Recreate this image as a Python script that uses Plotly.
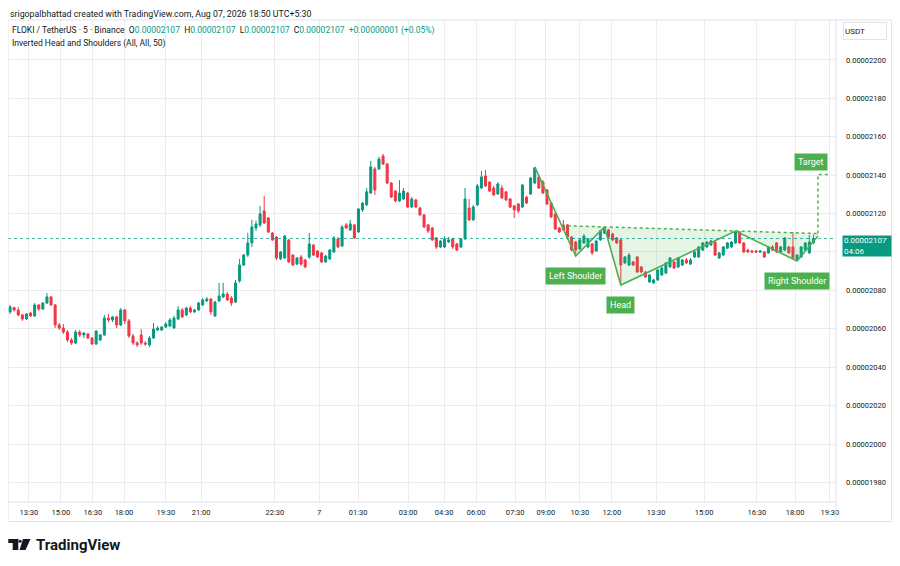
import plotly.graph_objects as go

# FLOKI / TetherUS candles, prices in units of 1e-8 USDT
S = 1e-8

opens = [
    2068.8, 2071.0, 2069.8, 2067.2, 2065.1, 2068.2, 2066.7, 2072.4, 2070.3, 2073.4,
    2076.6, 2072.4, 2062.0, 2060.4, 2058.3, 2054.2, 2052.6, 2058.3, 2056.8, 2057.3,
    2055.2, 2052.1, 2054.2, 2056.8, 2065.6, 2064.6, 2066.2, 2062.0, 2069.8, 2064.1,
    2056.3, 2052.6, 2056.8, 2052.6, 2051.6, 2055.2, 2059.4, 2059.4, 2060.9, 2061.4,
    2060.4, 2065.1, 2069.8, 2067.2, 2070.8, 2068.8, 2069.8, 2072.4, 2074.5, 2075.5,
    2066.7, 2074.5, 2076.6, 2078.1, 2076.0, 2073.9, 2084.9, 2093.2, 2098.4, 2104.7,
    2112.5, 2114.1, 2121.4, 2117.7, 2109.9, 2107.8, 2096.4, 2096.9, 2106.3, 2098.4,
    2093.7, 2097.4, 2095.8, 2097.4, 2103.6, 2100.5, 2099.5, 2094.8, 2096.4, 2100.0,
    2106.8, 2103.1, 2114.1, 2111.5, 2114.1, 2110.4, 2121.9, 2124.5, 2130.7, 2143.2,
    2143.2, 2150.0, 2145.8, 2135.9, 2131.7, 2126.6, 2127.6, 2130.7, 2123.4, 2127.1,
    2122.9, 2119.3, 2114.1, 2112.5, 2107.3, 2102.6, 2102.6, 2105.2, 2106.8, 2104.2,
    2102.6, 2106.8, 2122.9, 2116.7, 2124.5, 2133.3, 2139.6, 2136.4, 2133.3, 2130.2,
    2133.3, 2131.3, 2127.6, 2124.0, 2125.0, 2123.4, 2128.6, 2130.2, 2135.9, 2139.1,
    2136.4, 2132.3, 2125.5, 2119.8, 2112.5, 2114.1, 2114.1, 2107.8, 2105.2, 2101.6,
    2104.7, 2102.6, 2104.2, 2100.5, 2106.3, 2109.9, 2111.5, 2109.4, 2107.3, 2106.3,
    2094.3, 2093.2, 2094.8, 2097.4, 2092.2, 2089.6, 2084.4, 2083.9, 2085.4, 2088.0,
    2089.0, 2092.2, 2094.8, 2092.2, 2093.2, 2095.8, 2093.7, 2097.4, 2097.4, 2101.0,
    2102.6, 2103.6, 2105.2, 2096.9, 2098.4, 2102.0, 2102.6, 2104.7, 2110.4, 2104.7,
    2101.0, 2100.5, 2100.5, 2100.0, 2100.0, 2099.5, 2102.6, 2104.7, 2100.0, 2101.0,
    2102.6, 2102.6, 2095.8, 2097.4, 2101.0, 2099.5, 2104.7,
]
highs = [
    2072.4, 2071.5, 2071.4, 2067.7, 2068.2, 2068.8, 2073.4, 2072.9, 2073.9, 2078.6,
    2077.1, 2072.9, 2063.0, 2062.5, 2059.4, 2055.2, 2059.4, 2059.4, 2058.3, 2057.8,
    2055.7, 2059.4, 2057.3, 2067.2, 2067.7, 2066.7, 2066.7, 2070.8, 2070.3, 2065.1,
    2057.3, 2053.6, 2059.9, 2053.6, 2056.3, 2063.0, 2061.4, 2061.4, 2063.5, 2065.6,
    2066.7, 2071.9, 2070.8, 2071.4, 2071.9, 2070.3, 2074.0, 2076.0, 2076.6, 2076.0,
    2074.5, 2083.9, 2083.9, 2079.2, 2077.1, 2085.4, 2096.4, 2099.0, 2109.9, 2116.7,
    2116.2, 2124.0, 2129.2, 2118.2, 2110.4, 2108.3, 2100.5, 2108.9, 2106.8, 2098.9,
    2097.4, 2098.4, 2096.4, 2109.9, 2104.2, 2101.0, 2100.0, 2098.4, 2101.6, 2108.3,
    2107.8, 2114.1, 2115.1, 2116.7, 2114.6, 2123.0, 2126.0, 2133.3, 2147.4, 2144.3,
    2149.5, 2151.0, 2146.4, 2136.4, 2132.3, 2137.5, 2133.3, 2131.3, 2128.6, 2127.6,
    2123.4, 2119.8, 2114.6, 2113.0, 2107.8, 2106.3, 2108.3, 2107.8, 2107.3, 2104.7,
    2107.3, 2133.3, 2127.6, 2124.5, 2135.4, 2142.2, 2142.7, 2136.9, 2134.4, 2136.4,
    2134.9, 2131.7, 2128.1, 2124.5, 2125.5, 2135.4, 2129.2, 2139.1, 2144.3, 2139.6,
    2137.5, 2132.8, 2126.0, 2120.3, 2113.0, 2116.7, 2114.6, 2108.3, 2105.7, 2107.3,
    2109.4, 2107.3, 2104.7, 2106.3, 2111.5, 2113.0, 2112.0, 2109.9, 2107.8, 2106.8,
    2097.9, 2099.5, 2095.3, 2097.9, 2092.7, 2090.1, 2088.5, 2086.0, 2091.1, 2092.7,
    2094.8, 2097.4, 2095.3, 2097.4, 2096.4, 2096.9, 2096.9, 2100.5, 2103.1, 2105.2,
    2105.7, 2106.3, 2106.3, 2100.0, 2103.1, 2105.2, 2105.7, 2110.9, 2110.9, 2105.2,
    2101.6, 2101.0, 2101.0, 2101.0, 2100.5, 2103.1, 2103.6, 2105.2, 2103.1, 2107.8,
    2103.1, 2110.4, 2098.9, 2103.1, 2105.2, 2108.9, 2108.9,
]
lows = [
    2067.7, 2069.0, 2066.5, 2064.1, 2064.6, 2066.2, 2066.2, 2069.3, 2069.8, 2072.9,
    2071.9, 2060.4, 2059.4, 2057.3, 2053.1, 2051.6, 2052.1, 2055.7, 2055.2, 2054.7,
    2051.6, 2051.6, 2053.6, 2056.3, 2063.5, 2063.5, 2060.4, 2061.4, 2062.5, 2055.2,
    2051.6, 2050.5, 2051.6, 2051.1, 2050.5, 2054.7, 2058.8, 2058.8, 2060.4, 2060.9,
    2060.0, 2064.6, 2065.6, 2066.7, 2068.2, 2068.2, 2069.3, 2071.9, 2074.0, 2067.2,
    2066.2, 2074.0, 2076.0, 2074.5, 2071.9, 2073.4, 2083.9, 2092.7, 2097.4, 2102.6,
    2110.9, 2113.0, 2114.6, 2109.9, 2105.7, 2095.8, 2095.8, 2096.4, 2094.3, 2092.7,
    2093.2, 2092.7, 2091.6, 2096.4, 2097.9, 2096.9, 2094.3, 2094.3, 2095.8, 2099.5,
    2102.0, 2102.6, 2112.0, 2110.9, 2106.8, 2109.9, 2120.8, 2124.0, 2130.2, 2129.7,
    2142.7, 2145.3, 2135.4, 2128.1, 2126.0, 2126.0, 2127.1, 2122.9, 2122.9, 2122.9,
    2118.8, 2112.5, 2109.9, 2105.7, 2101.6, 2102.0, 2102.0, 2104.7, 2101.6, 2100.5,
    2102.0, 2106.3, 2116.2, 2116.2, 2124.0, 2132.8, 2133.8, 2131.3, 2129.2, 2129.7,
    2127.6, 2126.6, 2122.9, 2117.7, 2120.3, 2122.9, 2125.0, 2129.7, 2135.4, 2132.8,
    2130.2, 2124.5, 2117.7, 2111.5, 2109.9, 2110.9, 2106.8, 2100.5, 2097.9, 2101.0,
    2104.2, 2102.0, 2098.4, 2100.0, 2105.7, 2109.4, 2107.3, 2105.7, 2104.2, 2082.8,
    2093.7, 2092.7, 2092.7, 2089.0, 2089.0, 2086.5, 2083.9, 2083.4, 2084.9, 2087.5,
    2088.5, 2091.6, 2091.1, 2091.6, 2092.7, 2093.7, 2093.2, 2096.9, 2096.9, 2100.5,
    2102.0, 2103.1, 2097.9, 2096.4, 2097.9, 2101.6, 2102.0, 2104.2, 2104.2, 2099.5,
    2099.5, 2099.5, 2099.5, 2099.5, 2096.9, 2099.0, 2100.5, 2099.5, 2099.5, 2100.5,
    2099.0, 2095.8, 2095.3, 2096.9, 2100.5, 2099.0, 2104.2,
]
closes = [
    2071.4, 2069.8, 2067.2, 2065.1, 2067.7, 2066.7, 2072.4, 2070.3, 2073.4, 2076.6,
    2072.4, 2062.0, 2060.4, 2058.3, 2054.2, 2052.6, 2058.3, 2056.8, 2057.8, 2055.2,
    2052.1, 2058.8, 2056.8, 2065.6, 2064.6, 2066.2, 2062.0, 2069.8, 2064.1, 2056.3,
    2052.6, 2051.6, 2052.6, 2052.1, 2055.2, 2059.9, 2060.4, 2060.9, 2062.5, 2064.6,
    2065.6, 2069.8, 2066.2, 2070.8, 2068.8, 2069.8, 2073.4, 2075.0, 2075.5, 2068.8,
    2074.0, 2077.1, 2078.1, 2075.0, 2073.4, 2083.9, 2093.2, 2098.4, 2104.7, 2113.0,
    2114.6, 2119.8, 2115.1, 2110.4, 2106.3, 2096.9, 2100.0, 2108.3, 2094.8, 2093.2,
    2096.9, 2093.7, 2092.2, 2104.2, 2098.4, 2097.4, 2094.8, 2097.9, 2101.0, 2107.3,
    2102.6, 2113.0, 2112.5, 2114.6, 2107.3, 2122.4, 2125.5, 2131.3, 2144.3, 2132.3,
    2148.4, 2145.8, 2135.9, 2128.6, 2126.6, 2130.7, 2131.7, 2123.4, 2127.6, 2123.4,
    2119.3, 2113.0, 2110.9, 2106.3, 2102.6, 2105.7, 2106.8, 2106.3, 2102.6, 2101.0,
    2106.8, 2127.6, 2116.7, 2123.4, 2134.4, 2139.1, 2134.4, 2131.7, 2129.7, 2135.4,
    2128.1, 2127.1, 2123.4, 2121.9, 2121.4, 2134.9, 2125.5, 2138.5, 2143.8, 2133.3,
    2130.7, 2125.0, 2118.2, 2112.0, 2110.4, 2111.5, 2107.8, 2101.0, 2101.0, 2106.3,
    2108.3, 2106.8, 2099.5, 2105.7, 2111.0, 2112.5, 2107.8, 2106.3, 2104.7, 2093.2,
    2097.4, 2098.4, 2093.2, 2089.6, 2089.6, 2087.0, 2088.0, 2085.4, 2090.6, 2091.6,
    2094.3, 2096.9, 2091.6, 2096.9, 2095.8, 2094.3, 2095.8, 2100.0, 2102.6, 2104.7,
    2105.2, 2105.7, 2098.4, 2099.5, 2102.6, 2104.7, 2105.2, 2110.4, 2104.7, 2100.0,
    2100.0, 2100.0, 2100.0, 2100.5, 2097.4, 2102.6, 2101.0, 2100.0, 2102.6, 2107.3,
    2099.5, 2096.9, 2098.4, 2102.6, 2104.7, 2105.2, 2107.0,
]

# time axis labels, placed at bar positions
time_ticks = [4.6, 12.4, 20.2, 27.8, 38.0, 46.6, 64.6, 75.4, 84.9, 97.1, 105.9,
              113.7, 123.2, 130.7, 139.0, 146.8, 157.6, 169.3, 182.2, 191.5, 200.0]
time_labels = ["13:30", "15:00", "16:30", "18:00", "19:30", "21:00", "22:30", "7",
               "01:30", "03:00", "04:30", "06:00", "07:30", "09:00", "10:30", "12:00",
               "13:30", "15:00", "16:30", "18:00", "19:30"]
price_ticks = [1980, 2000, 2020, 2040, 2060, 2080, 2100, 2120, 2140, 2160, 2180, 2200]

# inverted head and shoulders pivots
pattern_bars = [128, 138, 145, 149, 177, 192, 197.1]
pattern_prices = [2144.3, 2097.9, 2113.0, 2082.8, 2110.9, 2095.3, 2108.3]
pattern_labels = ["", "Left Shoulder", "", "Head", "", "Right Shoulder", ""]
neckline_bars = [134.6, 197.1]
neckline_prices = [2113.75, 2109.6]
target_bars = [197.1, 197.1, 199.5]
target_prices = [2109.6, 2140.4, 2140.4]
last_price = 2107.0

UP = "#089981"
DOWN = "#F23645"
GREEN = "#4caf50"
TXT = "#131722"
GRID = "#ececec"
FONT = "Roboto"

# the page body adds an 8px margin, so the figure is 16px smaller than the window
W, H = 884, 550
# plot area in screen pixels of the 900x566 window
PL, PR, PT, PB = 8, 836, 20, 502


def px(x):
    return (x - PL) / (PR - PL)


def py(y):
    return (PB - y) / (PB - PT)


bars = list(range(len(opens)))

fig = go.Figure()

fill_x = [neckline_bars[0]] + pattern_bars[1:] + [neckline_bars[1], neckline_bars[0]]
fill_y = [neckline_prices[0]] + pattern_prices[1:] + [neckline_prices[1], neckline_prices[0]]
fig.add_trace(go.Scatter(
    x=fill_x, y=[v * S for v in fill_y], mode="lines", fill="toself",
    fillcolor="rgba(76,175,80,0.14)", line=dict(width=0), hoverinfo="skip"
))

fig.add_trace(go.Candlestick(
    x=bars,
    open=[v * S for v in opens], high=[v * S for v in highs],
    low=[v * S for v in lows], close=[v * S for v in closes],
    increasing=dict(line=dict(color=UP, width=1), fillcolor=UP),
    decreasing=dict(line=dict(color=DOWN, width=1), fillcolor=DOWN),
    whiskerwidth=0,
))

fig.add_trace(go.Scatter(
    x=pattern_bars, y=[v * S for v in pattern_prices], mode="lines",
    line=dict(color=GREEN, width=1.6), hoverinfo="skip"
))
fig.add_trace(go.Scatter(
    x=neckline_bars, y=[v * S for v in neckline_prices], mode="lines",
    line=dict(color=GREEN, width=1.5, dash="dot"), hoverinfo="skip"
))
fig.add_trace(go.Scatter(
    x=target_bars, y=[v * S for v in target_prices], mode="lines",
    line=dict(color=GREEN, width=1.5, dash="dot"), hoverinfo="skip"
))

# pattern labels
for b, p, lab in zip(pattern_bars, pattern_prices, pattern_labels):
    if lab:
        fig.add_annotation(x=b, y=p * S, text=lab, showarrow=False, yanchor="top",
                           yshift=-11, bgcolor=GREEN, borderpad=3,
                           font=dict(color="white", size=9, family=FONT))
fig.add_annotation(x=target_bars[-1], y=target_prices[-1] * S, text="Target",
                   showarrow=False, xanchor="right", yanchor="bottom", yshift=3,
                   bgcolor=GREEN, borderpad=3,
                   font=dict(color="white", size=9, family=FONT))

# current price line and label
fig.add_shape(type="line", xref="paper", x0=0, x1=1, yref="y",
              y0=last_price * S, y1=last_price * S,
              line=dict(color="rgba(8,153,129,0.75)", width=1, dash="dot"))
fig.add_annotation(xref="paper", x=px(842), yref="y", y=last_price * S,
                   text=f"{last_price * S:.8f}<br>04:06", showarrow=False,
                   xanchor="left", yanchor="top", yshift=4, align="left",
                   width=46, height=18, bgcolor=UP, borderpad=1,
                   font=dict(color="white", size=8, family=FONT))

# frame
fig.add_shape(type="rect", xref="paper", yref="paper", x0=px(8), x1=px(891.5),
              y0=py(521.5), y1=py(20), line=dict(color="#e0e3eb", width=1))
fig.add_shape(type="line", xref="paper", yref="paper", x0=1, x1=1,
              y0=py(522), y1=py(20), line=dict(color="#e0e3eb", width=1))
fig.add_shape(type="line", xref="paper", yref="paper", x0=0, x1=1,
              y0=0, y1=0, line=dict(color="#e0e3eb", width=1))

# header and legend
fig.add_annotation(xref="paper", yref="paper", x=px(8), y=py(13.5), xanchor="left",
                   yanchor="middle", showarrow=False,
                   text="srigopalbhattad created with TradingView.com, Aug 07, 2026 18:50 UTC+5:30",
                   font=dict(size=8.8, color=TXT, family=FONT))
val = f"<span style='color:{UP}'>{last_price * S:.8f}</span>"
legend1 = (f"FLOKI / TetherUS · 5 · Binance&nbsp;&nbsp;O{val}&nbsp;&nbsp;H{val}&nbsp;&nbsp;"
           f"L{val}&nbsp;&nbsp;C{val}&nbsp;&nbsp;<span style='color:{UP}'>+0.00000001 (+0.05%)</span>")
fig.add_annotation(xref="paper", yref="paper", x=px(10), y=py(30), xanchor="left",
                   yanchor="middle", showarrow=False, text=legend1,
                   font=dict(size=8.5, color=TXT, family=FONT))
fig.add_annotation(xref="paper", yref="paper", x=px(10), y=py(43), xanchor="left",
                   yanchor="middle", showarrow=False,
                   text="Inverted Head and Shoulders (All, All, 50)",
                   font=dict(size=8.5, color=TXT, family=FONT))

# currency box
fig.add_annotation(xref="paper", yref="paper", x=px(843), y=py(22), xanchor="left",
                   yanchor="top", showarrow=False, text="USDT", align="left",
                   width=40, height=14, bordercolor="#e0e3eb", borderwidth=1,
                   borderpad=1, bgcolor="white",
                   font=dict(size=8, color=TXT, family=FONT))

# TradingView logo
fig.add_shape(type="rect", xref="paper", yref="paper", x0=px(8.3), x1=px(18.3),
              y0=py(543), y1=py(539), fillcolor=TXT, line=dict(width=0))
fig.add_shape(type="rect", xref="paper", yref="paper", x0=px(12.7), x1=px(18.3),
              y0=py(550), y1=py(539), fillcolor=TXT, line=dict(width=0))
fig.add_shape(type="circle", xref="paper", yref="paper", x0=px(18.8), x1=px(21.8),
              y0=py(542.8), y1=py(539.8), fillcolor=TXT, line=dict(width=0))
fig.add_shape(type="path", xref="paper", yref="paper",
              path=(f"M {px(23)},{py(539)} L {px(30.5)},{py(539)} "
                    f"L {px(25.5)},{py(550)} L {px(19.5)},{py(550)} Z"),
              fillcolor=TXT, line=dict(width=0))
fig.add_annotation(xref="paper", yref="paper", x=px(34), y=py(545), xanchor="left",
                   yanchor="middle", showarrow=False, text="<b>TradingView</b>",
                   font=dict(size=15, color=TXT, family=FONT))

fig.update_layout(
    width=W, height=H,
    margin=dict(l=PL - 8, r=(W + 8) - PR, t=PT - 8, b=(H + 8) - PB, autoexpand=False),
    paper_bgcolor="white", plot_bgcolor="white",
    showlegend=False,
    xaxis=dict(
        range=[-0.5, 201.5], rangeslider=dict(visible=False),
        tickvals=time_ticks, ticktext=time_labels,
        showgrid=True, gridcolor=GRID, gridwidth=1, zeroline=False,
        showline=False, ticks="", ticklabelstandoff=4,
        tickfont=dict(size=7.5, color=TXT, family=FONT),
    ),
    yaxis=dict(
        side="right", range=[1969.8 * S, 2220.8 * S],
        tickvals=[v * S for v in price_ticks], tickformat=".8f",
        showgrid=True, gridcolor=GRID, gridwidth=1, zeroline=False,
        showline=False, ticks="", ticklabelstandoff=9,
        tickfont=dict(size=7.5, color=TXT, family=FONT),
    ),
)

fig.write_html("out.html")
